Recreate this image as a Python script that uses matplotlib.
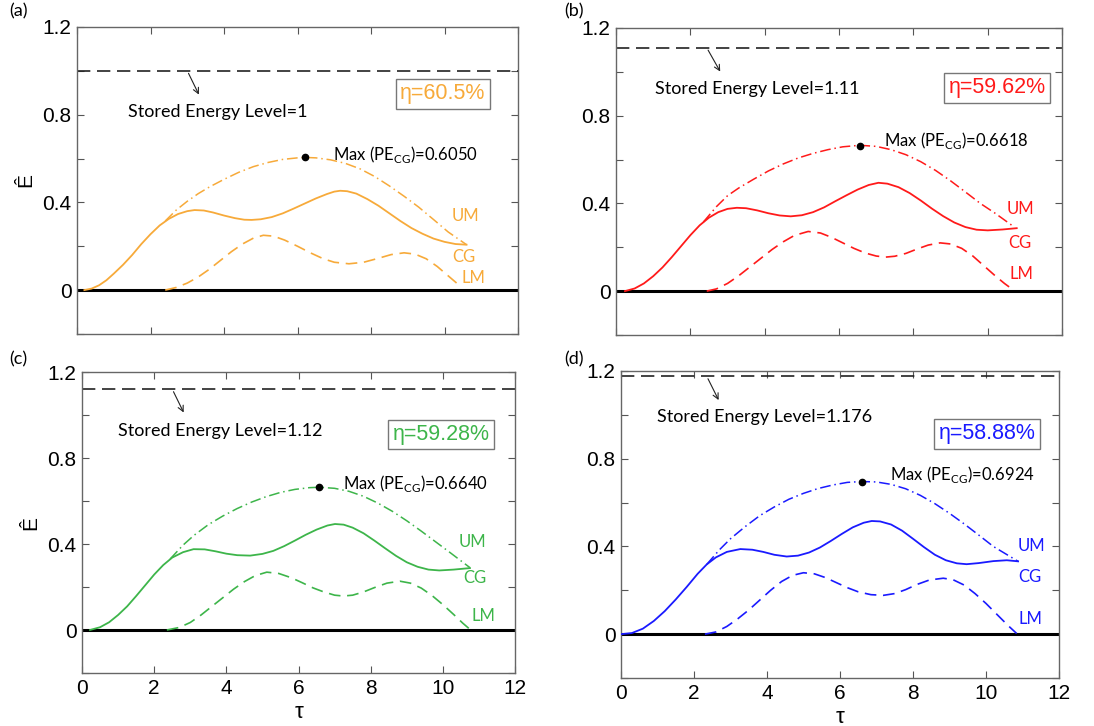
import numpy as np
import matplotlib.pyplot as plt

plt.rcParams['font.family'] = ['Liberation Sans', 'DejaVu Sans']

# ---- data ----
# (a)
a_cg_t = [0.2, 0.4, 0.6, 0.8, 1.0, 1.25, 1.5, 1.75, 2.0, 2.25, 2.5, 2.75, 3.0, 3.2, 3.45, 3.7, 4.0, 4.3, 4.55, 4.75,
          5.0, 5.3, 5.6, 5.9, 6.2, 6.5, 6.8, 7.0, 7.16, 7.35, 7.6, 7.9, 8.2, 8.5, 8.8, 9.1, 9.4, 9.7, 10.0, 10.3, 10.6]
a_cg_e = [0.0, 0.007, 0.022, 0.045, 0.075, 0.115, 0.16, 0.21, 0.255, 0.295, 0.325, 0.347, 0.36, 0.365, 0.363, 0.354,
          0.34, 0.328, 0.321, 0.32, 0.323, 0.333, 0.35, 0.372, 0.395, 0.418, 0.438, 0.449, 0.453, 0.451, 0.44, 0.415,
          0.385, 0.35, 0.315, 0.283, 0.257, 0.235, 0.22, 0.21, 0.207]
a_um_t = [2.4, 2.7, 3.0, 3.3, 3.6, 4.0, 4.4, 4.8, 5.2, 5.6, 6.0, 6.2, 6.5, 6.9, 7.3, 7.7, 8.1, 8.5, 8.9, 9.3, 9.7, 10.1, 10.6]
a_um_e = [0.315, 0.365, 0.405, 0.44, 0.47, 0.505, 0.537, 0.563, 0.582, 0.596, 0.603, 0.605, 0.603, 0.594, 0.578,
          0.553, 0.518, 0.475, 0.428, 0.378, 0.322, 0.265, 0.207]
a_lm_t = [2.4, 2.7, 3.0, 3.3, 3.6, 3.9, 4.2, 4.5, 4.8, 5.07, 5.35, 5.65, 6.0, 6.35, 6.7, 7.0, 7.4, 7.8, 8.2, 8.55,
          8.9, 9.2, 9.5, 9.8, 10.1, 10.4]
a_lm_e = [0.0, 0.012, 0.032, 0.06, 0.095, 0.135, 0.175, 0.21, 0.237, 0.25, 0.246, 0.228, 0.2, 0.17, 0.143, 0.127,
          0.12, 0.127, 0.145, 0.162, 0.17, 0.164, 0.143, 0.108, 0.065, 0.022]

# (b)
b_cg_t = [0.24, 0.5, 0.75, 1.0, 1.25, 1.5, 1.75, 2.0, 2.25, 2.5, 2.75, 3.0, 3.25, 3.5, 3.8, 4.1, 4.4, 4.7, 5.0, 5.3,
          5.6, 5.9, 6.2, 6.5, 6.8, 7.06, 7.3, 7.6, 7.9, 8.2, 8.5, 8.8, 9.1, 9.4, 9.7, 10.0, 10.4, 10.78]
b_cg_e = [0.0, 0.012, 0.035, 0.068, 0.108, 0.155, 0.205, 0.255, 0.3, 0.335, 0.36, 0.375, 0.38, 0.378, 0.368, 0.355,
          0.345, 0.341, 0.346, 0.36, 0.382, 0.41, 0.437, 0.463, 0.484, 0.494, 0.49, 0.474, 0.447, 0.413, 0.376, 0.342,
          0.313, 0.292, 0.28, 0.277, 0.281, 0.287]
b_um_t = [2.35, 2.7, 3.0, 3.3, 3.7, 4.1, 4.5, 4.9, 5.3, 5.7, 6.1, 6.56, 7.0, 7.4, 7.8, 8.2, 8.6, 9.0, 9.4, 9.8,
          10.2, 10.65]
b_um_e = [0.315, 0.385, 0.435, 0.47, 0.51, 0.548, 0.58, 0.607, 0.628, 0.645, 0.658, 0.665, 0.66, 0.645, 0.622,
          0.59, 0.55, 0.503, 0.452, 0.4, 0.355, 0.3]
b_lm_t = [2.44, 2.7, 3.0, 3.3, 3.6, 3.9, 4.2, 4.5, 4.8, 5.17, 5.5, 5.8, 6.1, 6.4, 6.7, 7.0, 7.25, 7.5, 7.8, 8.1,
          8.4, 8.72, 9.0, 9.3, 9.6, 9.9, 10.2, 10.45, 10.69]
b_lm_e = [0.0, 0.01, 0.035, 0.07, 0.11, 0.15, 0.19, 0.225, 0.254, 0.272, 0.265, 0.245, 0.22, 0.195, 0.174, 0.16,
          0.155, 0.159, 0.172, 0.192, 0.21, 0.22, 0.215, 0.195, 0.16, 0.115, 0.07, 0.035, 0.005]

# (c)
c_cg_t = [0.22, 0.5, 0.75, 1.0, 1.25, 1.5, 1.75, 2.0, 2.25, 2.5, 2.8, 3.09, 3.4, 3.7, 4.0, 4.3, 4.66, 5.0, 5.3, 5.6,
          5.9, 6.2, 6.5, 6.8, 7.01, 7.25, 7.5, 7.8, 8.1, 8.4, 8.7, 9.0, 9.3, 9.6, 9.9, 10.3, 10.75]
c_cg_e = [0.0, 0.013, 0.036, 0.07, 0.11, 0.158, 0.208, 0.258, 0.302, 0.337, 0.362, 0.376, 0.375, 0.366, 0.355,
          0.348, 0.346, 0.354, 0.368, 0.39, 0.416, 0.443, 0.467, 0.486, 0.493, 0.49, 0.476, 0.45, 0.416, 0.38, 0.345,
          0.315, 0.294, 0.281, 0.277, 0.281, 0.288]
c_um_t = [2.44, 2.8, 3.1, 3.5, 3.9, 4.3, 4.7, 5.1, 5.5, 5.9, 6.3, 6.58, 7.0, 7.4, 7.8, 8.2, 8.6, 9.0, 9.4, 9.8,
          10.2, 10.75]
c_um_e = [0.33, 0.395, 0.44, 0.49, 0.53, 0.565, 0.595, 0.62, 0.64, 0.654, 0.662, 0.664, 0.659, 0.645, 0.622, 0.59,
          0.552, 0.508, 0.46, 0.41, 0.36, 0.29]
c_lm_t = [2.35, 2.7, 3.0, 3.3, 3.6, 3.9, 4.2, 4.5, 4.8, 5.12, 5.45, 5.8, 6.1, 6.4, 6.7, 7.0, 7.24, 7.5, 7.8, 8.1,
          8.45, 8.81, 9.1, 9.4, 9.7, 10.0, 10.3, 10.55, 10.75]
c_lm_e = [0.0, 0.012, 0.035, 0.07, 0.11, 0.15, 0.19, 0.225, 0.253, 0.269, 0.263, 0.243, 0.22, 0.196, 0.177, 0.162,
          0.158, 0.162, 0.177, 0.197, 0.218, 0.227, 0.218, 0.195, 0.16, 0.118, 0.072, 0.032, 0.003]

# (d)
d_cg_t = [0.0, 0.3, 0.6, 0.9, 1.2, 1.5, 1.8, 2.1, 2.35, 2.6, 2.9, 3.27, 3.6, 3.9, 4.2, 4.54, 4.85, 5.15, 5.45, 5.75,
          6.05, 6.35, 6.65, 6.87, 7.1, 7.4, 7.7, 8.0, 8.3, 8.6, 8.9, 9.2, 9.47, 9.8, 10.2, 10.57, 10.88]
d_cg_e = [0.0, 0.005, 0.025, 0.06, 0.105, 0.158, 0.215, 0.275, 0.318, 0.35, 0.375, 0.388, 0.385, 0.375, 0.362,
          0.354, 0.358, 0.372, 0.395, 0.425, 0.457, 0.487, 0.508, 0.516, 0.514, 0.5, 0.472, 0.435, 0.397, 0.362,
          0.337, 0.323, 0.319, 0.324, 0.333, 0.337, 0.332]
d_um_t = [2.35, 2.7, 3.0, 3.4, 3.8, 4.2, 4.6, 5.0, 5.4, 5.8, 6.2, 6.6, 7.0, 7.4, 7.8, 8.2, 8.6, 9.0, 9.4, 9.8,
          10.2, 10.88]
d_um_e = [0.318, 0.385, 0.435, 0.49, 0.54, 0.58, 0.615, 0.642, 0.664, 0.68, 0.692, 0.696, 0.694, 0.683, 0.663,
          0.633, 0.595, 0.551, 0.503, 0.452, 0.4, 0.332]
d_lm_t = [2.3, 2.6, 2.9, 3.2, 3.5, 3.8, 4.1, 4.4, 4.7, 5.0, 5.3, 5.6, 5.9, 6.2, 6.5, 6.85, 7.19, 7.5, 7.8, 8.1,
          8.45, 8.83, 9.1, 9.4, 9.7, 10.0, 10.3, 10.6, 10.84]
d_lm_e = [0.0, 0.01, 0.035, 0.07, 0.11, 0.155, 0.2, 0.24, 0.268, 0.28, 0.275, 0.258, 0.235, 0.212, 0.193, 0.18,
          0.177, 0.185, 0.203, 0.226, 0.247, 0.255, 0.248, 0.224, 0.185, 0.14, 0.09, 0.04, 0.003]

stored = [1.0, 1.11, 1.12, 1.176]
stored_txt = ['1', '1.11', '1.12', '1.176']
eta_txt = ['60.5%', '59.62%', '59.28%', '58.88%']
max_txt = ['0.6050', '0.6618', '0.6640', '0.6924']
max_t = [6.2, 6.56, 6.58, 6.6]
max_e = [0.605, 0.6618, 0.664, 0.6924]
colors = ['#F7AA3A', '#FF1A1A', '#3DB54A', '#1A1AFF']
panels = ['(a)', '(b)', '(c)', '(d)']

curves = [
    (a_cg_t, a_cg_e, a_um_t, a_um_e, a_lm_t, a_lm_e),
    (b_cg_t, b_cg_e, b_um_t, b_um_e, b_lm_t, b_lm_e),
    (c_cg_t, c_cg_e, c_um_t, c_um_e, c_lm_t, c_lm_e),
    (d_cg_t, d_cg_e, d_um_t, d_um_e, d_lm_t, d_lm_e),
]

# layout / annotation positions (in data coords)
rects = [[0.0704, 0.540, 0.4031, 0.4229],
         [0.5631, 0.5386, 0.4077, 0.4229],
         [0.0750, 0.0730, 0.3958, 0.4146],
         [0.5676, 0.0661, 0.4004, 0.4229]]
arrow_xy = [((3.0, 1.0), (3.35, 0.88)), ((2.44, 1.11), (2.84, 0.99)),
            ((2.5, 1.12), (2.85, 1.0)), ((2.35, 1.176), (2.71, 1.056))]
sel_pos = [(1.4, 0.81), (1.05, 0.92), (1.0, 0.927), (0.98, 0.992)]
eta_pos = [(9.96, 0.895), (10.25, 0.927), (9.95, 0.91), (10.03, 0.913)]
max_pos = [(6.97, 0.62), (7.2, 0.689), (7.24, 0.683), (7.37, 0.727)]
lab_pos = [[(10.2, 0.34), (10.2, 0.15), (10.47, 0.055)],
           [(10.5, 0.376), (10.56, 0.22), (10.58, 0.076)],
           [(10.43, 0.41), (10.57, 0.24), (10.8, 0.065)],
           [(10.88, 0.40), (10.88, 0.26), (10.88, 0.07)]]
plab_pos = [(0.008, 0.985), (0.516, 0.985), (0.008, 0.505), (0.516, 0.505)]

ann_font = ['Lato', 'DejaVu Sans']

fig = plt.figure(figsize=(10.94, 7.26), dpi=100)

for i in range(4):
    ax = fig.add_axes(rects[i])
    c = colors[i]
    cg_t, cg_e, um_t, um_e, lm_t, lm_e = curves[i]

    ax.plot([0, 12], [0, 0], color='black', lw=2.2, zorder=2)
    ax.plot([0, 12], [stored[i], stored[i]], color='#222222', lw=1.2, dashes=(8, 4))

    ax.plot(cg_t, cg_e, color=c, lw=1.3, zorder=3)
    ax.plot(um_t, um_e, color=c, lw=1.1, dashes=(7, 2.5, 1, 2.5), zorder=3)
    ax.plot(lm_t, lm_e, color=c, lw=1.2, dashes=(7, 4), zorder=3)

    ax.plot(max_t[i], max_e[i], 'o', color='black', ms=4.5, zorder=4)
    ax.text(max_pos[i][0], max_pos[i][1],
            r'Max (PE$_{\mathregular{CG}}$)=' + max_txt[i],
            fontsize=12, family=ann_font, va='center', ha='left')

    ax.annotate('', xy=arrow_xy[i][1], xytext=arrow_xy[i][0],
                arrowprops=dict(arrowstyle='->', color='#222222', lw=0.8))
    ax.text(sel_pos[i][0], sel_pos[i][1], 'Stored Energy Level=' + stored_txt[i],
            fontsize=13, family=ann_font, va='center', ha='left')

    ax.text(eta_pos[i][0], eta_pos[i][1], 'η=' + eta_txt[i], color=c,
            fontsize=15.5, va='center', ha='center',
            bbox=dict(boxstyle='square,pad=0.2', fc='white', ec='#777777', lw=1))

    for (x, y), s in zip(lab_pos[i], ['UM', 'CG', 'LM']):
        ax.text(x, y, s, color=c, fontsize=12, family=ann_font, va='center', ha='left')

    ax.set_xlim(0, 12)
    ax.set_ylim(-0.2, 1.2)
    ax.set_xticks(np.arange(0, 13, 2))
    ax.set_yticks(np.arange(-0.2, 1.21, 0.2))
    ax.set_yticklabels(['', '0', '', '0.4', '', '0.8', '', '1.2'])
    ax.tick_params(direction='in', top=True, right=True, length=5,
                   labelsize=15, color='#555555', pad=4)
    for sp in ax.spines.values():
        sp.set_color('#666666')
        sp.set_linewidth(1.0)

    if i < 2:
        ax.set_xticklabels([])
    else:
        ax.set_xlabel('τ', fontsize=16, labelpad=3)
    if i % 2 == 0:
        ax.set_ylabel('Ê', fontsize=15, labelpad=5)

    fig.text(plab_pos[i][0], plab_pos[i][1], panels[i], fontsize=13,
             family=ann_font, va='center', ha='left')

fig.savefig('out.png', dpi=100)
